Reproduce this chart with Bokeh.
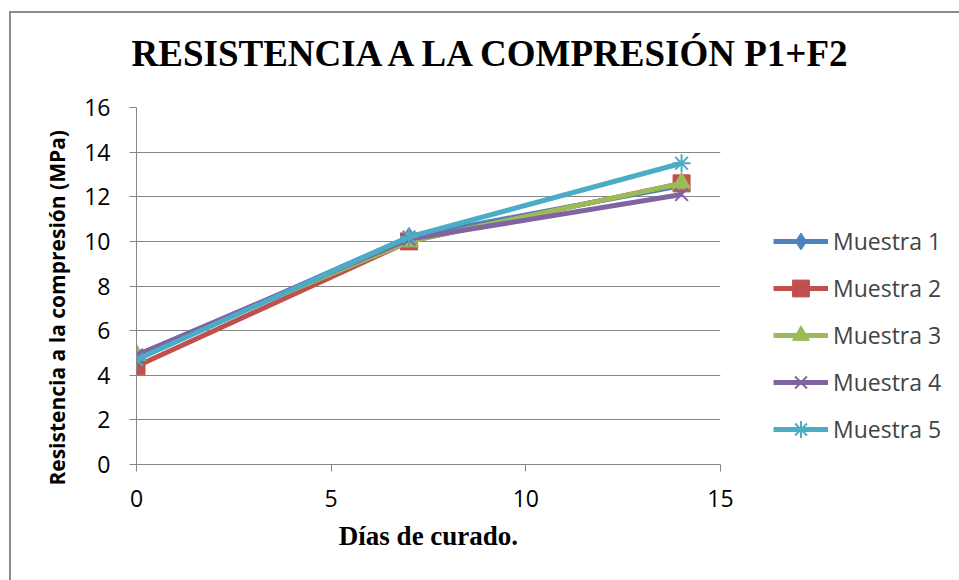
from bokeh.plotting import figure
from bokeh.models import Range1d, FixedTicker, Legend, LegendItem, Title
from bokeh.embed import file_html
from bokeh.resources import INLINE

dias = [0, 7, 14]
muestra_1 = [4.8, 10.2, 12.5]
muestra_2 = [4.4, 10.0, 12.6]
muestra_3 = [4.9, 10.0, 12.6]
muestra_4 = [4.9, 10.1, 12.1]
muestra_5 = [4.7, 10.2, 13.5]
nombres = ["Muestra 1", "Muestra 2", "Muestra 3", "Muestra 4", "Muestra 5"]
x_ticks = [0, 5, 10, 15]
y_ticks = [0, 2, 4, 6, 8, 10, 12, 14, 16]

series = [muestra_1, muestra_2, muestra_3, muestra_4, muestra_5]
colores = ["#4F81BD", "#C0504D", "#9BBB59", "#8064A2", "#4BACC6"]
marcadores = ["diamond", "square", "triangle", "x", "asterisk"]

p = figure(frame_width=584, frame_height=357, output_backend="svg", toolbar_location=None,
           x_range=Range1d(0, 15), y_range=Range1d(0, 16),
           min_border_left=125, min_border_right=0,
           min_border_top=94, min_border_bottom=116,
           styles={"margin-left": "9px", "margin-top": "11px",
                   "border-left": "2px solid #8c8c8c", "border-top": "2px solid #8c8c8c"})

p.title.text = "RESISTENCIA A LA COMPRESIÓN P1+F2"
p.title.text_font = "Liberation Serif"
p.title.text_font_style = "bold"
p.title.text_font_size = "37px"
p.title.text_color = "black"
p.title.align = "left"
p.title.offset = -5
p.title.standoff = 10

# spacer between the title and the plot frame
p.add_layout(Title(text=" ", text_font_size="1px", standoff=26), "above")

p.outline_line_color = None
p.xgrid.visible = False
p.ygrid.grid_line_color = "#868686"
p.ygrid.grid_line_width = 1

for ax in (p.xaxis[0], p.yaxis[0]):
    ax.axis_line_color = "#868686"
    ax.major_tick_line_color = "#868686"
    ax.major_tick_in = 0
    ax.major_tick_out = 7
    ax.minor_tick_line_color = None
    ax.major_label_text_font = "Open Sans"
    ax.major_label_text_font_size = "23px"
    ax.major_label_text_color = "black"

p.xaxis.ticker = FixedTicker(ticks=x_ticks)
p.yaxis.ticker = FixedTicker(ticks=y_ticks)
p.xaxis.major_label_standoff = 18
p.yaxis.major_label_standoff = 19

p.xaxis.axis_label = "Días de curado."
p.xaxis.axis_label_text_font = "Liberation Serif"
p.xaxis.axis_label_text_font_style = "bold"
p.xaxis.axis_label_text_font_size = "27px"
p.xaxis.axis_label_text_color = "black"
p.xaxis.axis_label_standoff = 11

p.yaxis.axis_label = "Resistencia a la compresión (MPa)" + "\u00a0" * 8
p.yaxis.axis_label_text_font = "Open Sans"
p.yaxis.axis_label_text_font_style = "bold"
p.yaxis.axis_label_text_font_size = "21px"
p.yaxis.axis_label_text_color = "black"
p.yaxis.axis_label_standoff = 10

items = []
for nombre, vals, col, mk in zip(nombres, series, colores, marcadores):
    lr = p.line(dias, vals, line_color=col, line_width=5)
    if mk in ("x", "asterisk"):
        sr = p.scatter(dias, vals, marker=mk, size=18, line_color=col, line_width=2)
    else:
        sr = p.scatter(dias, vals, marker=mk, size=17 if mk == "square" else 19,
                       fill_color=col, line_color=col)
    items.append(LegendItem(label=nombre, renderers=[lr, sr]))

legend = Legend(items=items, location=(53, 14), glyph_width=55, glyph_height=42,
                label_height=42, spacing=5, label_standoff=5, padding=0, margin=0,
                border_line_color=None, background_fill_alpha=0,
                label_text_font="Open Sans", label_text_font_size="23px")
p.add_layout(legend, "right")

open("out.html", "w").write(file_html(p, INLINE))
